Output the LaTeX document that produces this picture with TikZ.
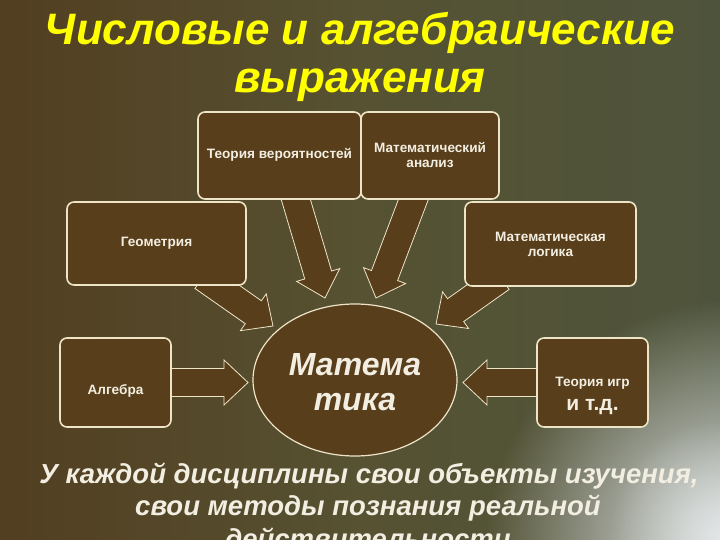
\documentclass[tikz,border=0pt]{standalone}
\usepackage{fontspec}
\setmainfont{Liberation Sans}[Script=Cyrillic, Language=Russian]
\usetikzlibrary{calc,shapes.geometric,fadings}
\definecolor{bgL}{RGB}{82,62,32}
\definecolor{bgM}{RGB}{86,82,50}
\definecolor{bgR}{RGB}{78,84,60}
\definecolor{boxbrown}{RGB}{88,62,26}
\definecolor{edge}{RGB}{238,228,200}
\definecolor{txt}{RGB}{242,238,226}
\definecolor{titley}{RGB}{255,255,0}
\definecolor{glowc}{RGB}{232,236,238}
\tikzfading[name=glowfade, inner color=transparent!0, outer color=transparent!100]
\newcommand\blockarrow[2]{%
  \coordinate (#1#2b) at ($(#2)!24pt!(#1)$);
  \draw[barrow] ($(#1)!14pt!90:(#2)$) -- ($(#1#2b)!14pt!90:(#2)$) -- ($(#1#2b)!22.5pt!90:(#2)$) -- (#2)
    -- ($(#1#2b)!22.5pt!-90:(#2)$) -- ($(#1#2b)!14pt!-90:(#2)$) -- ($(#1)!14pt!-90:(#2)$) -- cycle;
}
\begin{document}
\begin{tikzpicture}[x=1pt,y=-1pt,
  box/.style={draw=edge, line width=1.6pt, fill=boxbrown, rounded corners=7pt, inner sep=0pt},
  boxtext/.style={text=txt, font=\fontsize{13.6}{15}\selectfont\bfseries, align=center, inner sep=0pt},
  barrow/.style={draw=edge, line width=0.8pt, fill=boxbrown, line join=miter},
  title/.style={text=titley, font=\fontsize{44}{48}\selectfont\bfseries\itshape, inner sep=0pt, anchor=base},
  note/.style={text=txt, font=\fontsize{27.5}{32}\selectfont\bfseries\itshape, inner sep=0pt, anchor=base},
]
\useasboundingbox (0,0) rectangle (720,540);
\clip (0,0) rectangle (720,540);
% background
\shade[left color=bgL, right color=bgR, middle color=bgM] (0,0) rectangle (720,540);
\fill[glowc, path fading=glowfade] (735,550) ellipse [x radius=250pt, y radius=250pt];
\fill[glowc, opacity=0.5, path fading=glowfade] (720,530) ellipse [x radius=110pt, y radius=110pt];

% arrow anchors
\coordinate (sAlg) at (165,382.5);  \coordinate (tAlg) at (248,382.5);
\coordinate (sTI)  at (545,382.5);  \coordinate (tTI)  at (463,382.5);
\coordinate (sTV)  at (293,190);    \coordinate (tTV)  at (325,298);
\coordinate (sMA)  at (417,190);    \coordinate (tMA)  at (376,298);
\coordinate (sGeo) at (203,277);    \coordinate (tGeo) at (273,326);
\coordinate (sLog) at (501,278);    \coordinate (tLog) at (436,324);
\blockarrow{sAlg}{tAlg}
\blockarrow{sTI}{tTI}
\blockarrow{sTV}{tTV}
\blockarrow{sMA}{tMA}
\blockarrow{sGeo}{tGeo}
\blockarrow{sLog}{tLog}

% boxes
\node[box, minimum width=163pt, minimum height=87pt] (tv) at (279.5,155.5) {};
\node[box, minimum width=138pt, minimum height=87pt] (ma) at (430,155.5) {};
\node[box, minimum width=179pt, minimum height=83pt] (geo) at (156.5,243.5) {};
\node[box, minimum width=171pt, minimum height=84pt] (log) at (550.5,244) {};
\node[box, minimum width=111pt, minimum height=89pt] (alg) at (115.5,382.5) {};
\node[box, minimum width=111pt, minimum height=89pt] (ti) at (592.5,382.5) {};
\node[ellipse, draw=edge, line width=1.2pt, fill=boxbrown, minimum width=204pt, minimum height=152pt, inner sep=0pt] (mat) at (355,380) {};

% box texts
\node[boxtext] (tvt) at (279.5,155) {Теория вероятностей};
\node[boxtext] (mat1) at (430,155) {Математический\\анализ};
\node[boxtext] (geot) at (156.5,243.5) {Геометрия};
\node[boxtext] (logt) at (550.5,244.5) {Математическая\\логика};
\node[boxtext] (algt) at (115.5,391) {Алгебра};
\node[boxtext] (tit) at (592.5,383) {Теория игр};
\node[text=txt, font=\fontsize{21}{22}\selectfont\bfseries, inner sep=0pt] (etc) at (592.5,407) {и т.д.};
\node[text=txt, font=\fontsize{32}{35}\selectfont\bfseries\itshape, align=center, inner sep=0pt] (matt) at (355,382) {Матема\\тика};

% titles
\node[title] (t1) at (360,45) {Числовые и алгебраические};
\node[title] (t2) at (360,93) {выражения};
\node[note] (n1) at (369,483) {У каждой дисциплины свои объекты изучения,};
\node[note] (n2) at (368,515) {свои методы познания реальной};
\node[note] (n3) at (368,548) {действительности};
\end{tikzpicture}
\end{document}
